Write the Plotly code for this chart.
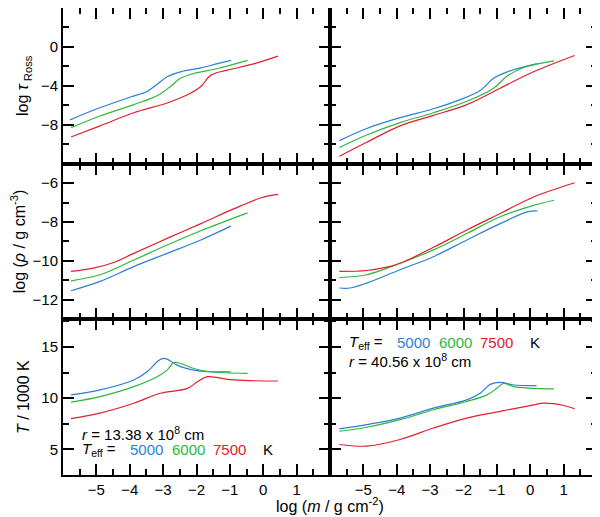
import plotly.graph_objects as go
from plotly.subplots import make_subplots

# log column mass (left: r = 13.38e8 cm, right: r = 40.56e8 cm)
teff = ["5000", "6000", "7500"]
colors = ["#2a7fd8", "#2db83d", "#e0202e"]

# --- log tau_Ross ---
tau_l_x = [
    [-5.79, -4.98, -3.98, -3.48, -3.18, -2.88, -2.48, -1.87, -1.37, -0.97],
    [-5.76, -4.89, -3.88, -3.18, -2.78, -2.48, -2.08, -1.37, -0.47],
    [-5.76, -4.89, -3.88, -2.88, -2.27, -1.87, -1.57, -1.07, -0.27, 0.44],
]
tau_l_y = [
    [-7.5, -6.36, -5.15, -4.58, -3.84, -3.06, -2.56, -2.15, -1.72, -1.38],
    [-8.3, -7.1, -5.93, -5.02, -4.07, -3.23, -2.73, -2.22, -1.38],
    [-9.26, -8.11, -6.77, -5.76, -4.92, -4.07, -2.9, -2.39, -1.72, -0.94],
]
tau_r_x = [
    [-5.72, -4.9, -3.9, -2.9, -2.1, -1.5, -1.1, -0.69, 0.21],
    [-5.72, -4.9, -3.9, -2.9, -1.9, -1.1, -0.69, -0.19, 0.71],
    [-5.72, -4.9, -3.9, -2.9, -1.9, -0.9, 0.1, 1.33],
]
tau_r_y = [
    [-9.63, -8.38, -7.27, -6.36, -5.42, -4.48, -3.23, -2.56, -1.72],
    [-10.34, -9.06, -7.78, -6.77, -5.59, -4.24, -3.0, -2.12, -1.44],
    [-11.24, -9.8, -8.11, -7.04, -5.93, -4.24, -2.56, -0.88],
]

# --- log rho ---
rho_l_x = [
    [-5.76, -4.89, -3.88, -2.88, -1.87, -0.97],
    [-5.76, -4.89, -3.88, -2.88, -1.87, -0.47],
    [-5.76, -5.09, -4.48, -3.88, -2.88, -1.87, -0.87, -0.06, 0.44],
]
rho_l_y = [
    [-11.53, -11.05, -10.29, -9.61, -8.92, -8.21],
    [-11.02, -10.71, -9.95, -9.18, -8.45, -7.53],
    [-10.54, -10.37, -10.08, -9.61, -8.84, -8.08, -7.31, -6.75, -6.58],
]
rho_r_x = [
    [-5.72, -5.4, -4.9, -3.9, -2.9, -1.9, -0.9, -0.09, 0.21],
    [-5.72, -4.9, -3.9, -2.9, -1.9, -0.9, 0.1, 0.71],
    [-5.72, -4.9, -4.3, -3.9, -2.9, -1.9, -0.9, 0.1, 1.33],
]
rho_r_y = [
    [-11.39, -11.39, -11.14, -10.45, -9.78, -8.92, -8.08, -7.48, -7.43],
    [-10.85, -10.71, -10.12, -9.43, -8.59, -7.73, -7.14, -6.88],
    [-10.54, -10.49, -10.32, -10.12, -9.3, -8.41, -7.56, -6.71, -5.98],
]

# --- T / 1000 K ---
t_l_x = [
    [-5.76, -4.89, -3.88, -3.48, -3.18, -3.03, -2.88, -2.58, -2.08, -1.67, -0.97],
    [-5.76, -4.89, -3.88, -3.18, -2.88, -2.68, -2.48, -2.08, -1.57, -0.47],
    [-5.76, -4.89, -3.88, -3.08, -2.27, -1.97, -1.67, -1.37, -0.87, 0.44],
]
t_l_y = [
    [10.32, 10.81, 11.78, 12.58, 13.55, 13.87, 13.81, 13.23, 12.74, 12.58, 12.58],
    [9.61, 10.16, 11.13, 12.1, 12.74, 13.48, 13.39, 12.9, 12.58, 12.42],
    [8.0, 8.55, 9.51, 10.48, 10.96, 11.61, 12.1, 12.0, 11.78, 11.68],
]
t_r_x = [
    [-5.72, -4.9, -3.9, -2.9, -1.9, -1.5, -1.2, -0.9, -0.49, 0.19],
    [-5.72, -4.9, -3.9, -2.9, -1.9, -1.3, -1.0, -0.8, -0.49, 0.71],
    [-5.72, -4.9, -3.9, -2.9, -1.9, -0.9, 0.1, 0.4, 1.0, 1.33],
]
t_r_y = [
    [7.0, 7.42, 8.06, 9.03, 9.84, 10.48, 11.35, 11.55, 11.29, 11.22],
    [6.77, 7.16, 7.9, 8.87, 9.68, 10.32, 10.96, 11.45, 11.13, 10.9],
    [5.48, 5.32, 5.97, 7.09, 8.06, 8.71, 9.35, 9.51, 9.29, 8.97],
]

x_ticks = [-5, -4, -3, -2, -1, 0, 1]
y_ticks = {1: [-8, -4, 0], 2: [-12, -10, -8, -6], 3: [5, 10, 15]}

panels = [
    (1, 1, tau_l_x, tau_l_y), (1, 2, tau_r_x, tau_r_y),
    (2, 1, rho_l_x, rho_l_y), (2, 2, rho_r_x, rho_r_y),
    (3, 1, t_l_x, t_l_y), (3, 2, t_r_x, t_r_y),
]

fig = make_subplots(rows=3, cols=2, horizontal_spacing=0, vertical_spacing=0)

for row, col, xs, ys in panels:
    for i in range(3):
        fig.add_trace(go.Scatter(x=xs[i], y=ys[i], mode="lines", line_shape="spline",
                                 line=dict(color=colors[i], width=1.2),
                                 showlegend=False), row=row, col=col)

axis_common = dict(showline=True, linecolor="black", linewidth=2, mirror="ticks",
                   ticks="inside", ticklen=11, tickcolor="black", tickwidth=2,
                   showgrid=False, zeroline=False, automargin=False,
                   tickfont=dict(size=15, color="black"))


def minor(step):
    return dict(ticks="inside", ticklen=6, dtick=step, tick0=0,
                tickcolor="black", tickwidth=2, showgrid=False)


for row in (1, 2, 3):
    for col in (1, 2):
        fig.update_xaxes(range=[-6, 2], tickmode="array", tickvals=x_ticks,
                         minor=minor(0.5), showticklabels=(row == 3),
                         row=row, col=col, **axis_common)

y_specs = {
    1: dict(range=[-12, 4], minor=minor(2)),
    2: dict(range=[-13, -5], minor=minor(1)),
    3: dict(range=[2.5, 17.7], minor=minor(2.5)),
}
y_titles = {
    1: "log <i>τ</i><sub> Ross</sub>",
    2: "log (<i>ρ</i> / g cm<sup>-3</sup>)",
    3: "<i>T</i> / 1000 K",
}
for row in (1, 2, 3):
    for col in (1, 2):
        fig.update_yaxes(tickmode="array", tickvals=y_ticks[row],
                         showticklabels=(col == 1), row=row, col=col,
                         **y_specs[row], **axis_common)
    fig.update_yaxes(title=dict(text=y_titles[row], font=dict(size=16, color="black"),
                                standoff=8), row=row, col=1)

fig.add_annotation(text="log (<i>m</i> / g cm<sup>-2</sup>)", xref="paper", yref="paper",
                   x=0.5, y=-0.064, xanchor="center", yanchor="middle", showarrow=False,
                   font=dict(size=16, color="black"))


# legend-like labels inside the T panels
def label_block(xref, yref, x0, y_teff, y_r, r_text):
    fig.add_annotation(text="<i>T</i><sub>eff</sub> =", x=x0, y=y_teff, xref=xref, yref=yref,
                       xanchor="left", showarrow=False, font=dict(size=15, color="black"))
    for i, (dx, t) in enumerate(zip([2.0, 3.25, 4.5], teff)):
        fig.add_annotation(text=t, x=x0 + dx, y=y_teff, xref=xref, yref=yref,
                           xanchor="center", showarrow=False,
                           font=dict(size=15, color=colors[i]))
    fig.add_annotation(text="K", x=x0 + 5.63, y=y_teff, xref=xref, yref=yref,
                       xanchor="center", showarrow=False, font=dict(size=15, color="black"))
    fig.add_annotation(text=r_text, x=x0, y=y_r, xref=xref, yref=yref,
                       xanchor="left", showarrow=False, font=dict(size=15, color="black"))


label_block("x5", "y5", -5.5, 4.96, 6.6, "<i>r</i> = 13.38 x 10<sup>8</sup> cm")
label_block("x6", "y6", -5.5, 15.48, 13.64, "<i>r</i> = 40.56 x 10<sup>8</sup> cm")

# the page body adds an 8 px offset, so the figure is 8 px smaller than the window;
# touching subplots draw their own backgrounds, so keep those transparent
fig.update_layout(width=592, height=509, plot_bgcolor="rgba(0,0,0,0)", paper_bgcolor="white",
                  margin=dict(l=55, r=3, t=0, b=42),
                  font=dict(family="Liberation Sans, Arial, sans-serif", color="black"))

fig.write_html("out.html")
